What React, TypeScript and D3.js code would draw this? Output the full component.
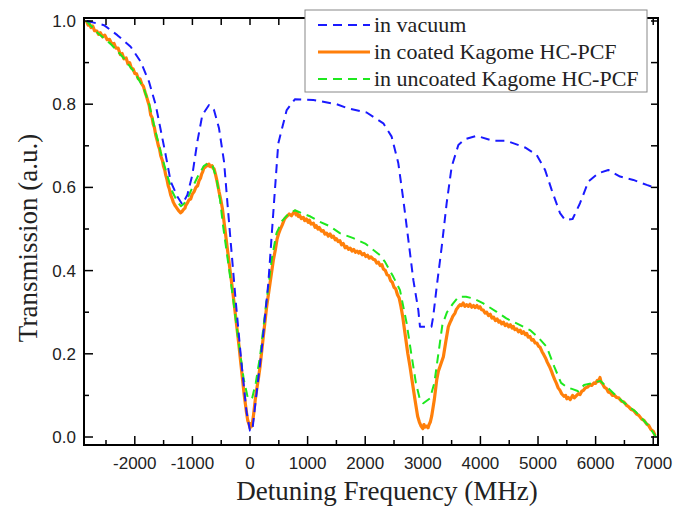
import React from "react";
import * as d3 from "d3";

const xTickValues = [-2000, -1000, 0, 1000, 2000, 3000, 4000, 5000, 6000, 7000];
const yTickValues = [0.0, 0.2, 0.4, 0.6, 0.8, 1.0];
const legendLabels = ["in vacuum", "in coated Kagome HC-PCF", "in uncoated Kagome HC-PCF"];

const vacuum: [number, number][] = [
  [-2830, 1.0], [-2535, 0.99], [-2303, 0.966], [-2072, 0.938], [-1898, 0.902], [-1753, 0.854],
  [-1637, 0.798], [-1550, 0.738], [-1464, 0.678], [-1377, 0.614], [-1262, 0.578], [-1175, 0.559],
  [-1088, 0.582], [-1001, 0.63], [-914, 0.71], [-828, 0.774], [-712, 0.798], [-625, 0.786],
  [-538, 0.742], [-451, 0.662], [-394, 0.566], [-330, 0.46], [-250, 0.33], [-150, 0.18],
  [-60, 0.06], [0, 0.015], [40, 0.015], [87, 0.073], [203, 0.21], [318, 0.37], [420, 0.57],
  [491, 0.706], [637, 0.786], [781, 0.812], [1100, 0.81], [1505, 0.8], [1700, 0.79], [2025, 0.78],
  [2315, 0.754], [2459, 0.722], [2575, 0.658], [2662, 0.57], [2749, 0.474], [2836, 0.377],
  [2922, 0.305], [2951, 0.265], [3150, 0.265], [3180, 0.289], [3241, 0.361], [3328, 0.457],
  [3414, 0.562], [3501, 0.65], [3617, 0.702], [3733, 0.716], [3935, 0.724], [4224, 0.712],
  [4456, 0.712], [4774, 0.696], [4977, 0.678], [5122, 0.642], [5237, 0.594], [5382, 0.538],
  [5470, 0.522], [5600, 0.524], [5729, 0.562], [5874, 0.614], [6047, 0.634], [6221, 0.642],
  [6424, 0.626], [6655, 0.618], [6887, 0.606], [7060, 0.598],
];

const coated: [number, number][] = [
  [-2840, 1.0], [-2810, 0.99], [-2790, 0.995], [-2760, 0.984], [-2730, 0.988], [-2700, 0.977],
  [-2660, 0.976], [-2630, 0.968], [-2600, 0.972], [-2560, 0.962], [-2520, 0.966], [-2480, 0.955],
  [-2440, 0.956], [-2400, 0.945], [-2360, 0.946], [-2330, 0.935], [-2290, 0.935], [-2250, 0.919],
  [-2220, 0.922], [-2190, 0.909], [-2150, 0.911], [-2120, 0.897], [-2090, 0.9], [-2060, 0.887],
  [-2030, 0.885], [-2000, 0.874], [-1970, 0.873], [-1940, 0.861], [-1910, 0.861], [-1880, 0.849],
  [-1850, 0.843], [-1820, 0.828], [-1800, 0.82], [-1770, 0.806], [-1750, 0.797], [-1724, 0.774],
  [-1700, 0.768], [-1680, 0.752], [-1660, 0.744], [-1637, 0.726], [-1610, 0.712], [-1590, 0.7],
  [-1570, 0.692], [-1550, 0.676], [-1520, 0.664], [-1500, 0.65], [-1480, 0.642], [-1464, 0.63],
  [-1440, 0.618], [-1420, 0.604], [-1400, 0.596], [-1377, 0.582], [-1350, 0.572], [-1330, 0.564],
  [-1300, 0.556], [-1270, 0.55], [-1240, 0.544], [-1204, 0.539], [-1180, 0.542], [-1160, 0.546],
  [-1130, 0.55], [-1117, 0.556], [-1090, 0.562], [-1060, 0.57], [-1030, 0.572], [-1001, 0.584],
  [-970, 0.59], [-940, 0.6], [-910, 0.604], [-885, 0.616], [-860, 0.622], [-840, 0.632],
  [-820, 0.638], [-799, 0.648], [-780, 0.648], [-750, 0.655], [-730, 0.652], [-712, 0.656],
  [-690, 0.65], [-660, 0.652], [-640, 0.646], [-625, 0.645], [-600, 0.632], [-580, 0.62],
  [-560, 0.606], [-538, 0.59], [-510, 0.572], [-480, 0.55], [-440, 0.505], [-400, 0.46],
  [-350, 0.405], [-300, 0.35], [-250, 0.29], [-200, 0.23], [-150, 0.165], [-100, 0.1],
  [-60, 0.058], [-40, 0.04], [-15, 0.03], [0, 0.022], [15, 0.032], [30, 0.026], [45, 0.038],
  [58, 0.049], [100, 0.1], [140, 0.135], [174, 0.169], [230, 0.24], [289, 0.313], [350, 0.372],
  [405, 0.425], [440, 0.45], [470, 0.476], [500, 0.49], [521, 0.498], [560, 0.51], [600, 0.524],
  [637, 0.53], [680, 0.536], [720, 0.532], [760, 0.54], [781, 0.543], [800, 0.534], [820, 0.538],
  [840, 0.53], [860, 0.533], [890, 0.525], [926, 0.528], [950, 0.52], [980, 0.524], [1010, 0.516],
  [1030, 0.521], [1060, 0.512], [1100, 0.514], [1130, 0.504], [1150, 0.508], [1180, 0.5],
  [1200, 0.504], [1240, 0.495], [1273, 0.496], [1300, 0.488], [1330, 0.49], [1360, 0.483],
  [1390, 0.488], [1420, 0.48], [1447, 0.483], [1480, 0.474], [1500, 0.477], [1530, 0.47],
  [1560, 0.472], [1590, 0.462], [1620, 0.465], [1650, 0.455], [1678, 0.458], [1710, 0.451],
  [1740, 0.454], [1770, 0.447], [1800, 0.451], [1830, 0.444], [1860, 0.447], [1890, 0.442],
  [1910, 0.446], [1950, 0.438], [1980, 0.441], [2010, 0.434], [2040, 0.437], [2070, 0.43],
  [2100, 0.433], [2141, 0.427], [2170, 0.426], [2200, 0.418], [2230, 0.42], [2260, 0.412],
  [2290, 0.414], [2315, 0.404], [2350, 0.4], [2380, 0.39], [2410, 0.388], [2440, 0.376],
  [2470, 0.372], [2500, 0.36], [2530, 0.356], [2560, 0.342], [2590, 0.334], [2620, 0.314],
  [2650, 0.29], [2691, 0.249], [2740, 0.2], [2778, 0.169], [2820, 0.13], [2865, 0.089],
  [2910, 0.05], [2940, 0.036], [2970, 0.026], [3000, 0.02], [3020, 0.03], [3038, 0.024],
  [3067, 0.026], [3090, 0.022], [3110, 0.03], [3130, 0.036], [3154, 0.05], [3200, 0.09],
  [3241, 0.137], [3270, 0.158], [3300, 0.17], [3330, 0.182], [3357, 0.193], [3400, 0.23],
  [3443, 0.265], [3472, 0.275], [3500, 0.283], [3520, 0.29], [3559, 0.298], [3580, 0.306],
  [3600, 0.31], [3620, 0.314], [3646, 0.318], [3670, 0.316], [3700, 0.322], [3730, 0.314],
  [3760, 0.318], [3790, 0.314], [3819, 0.319], [3850, 0.312], [3880, 0.316], [3910, 0.311],
  [3940, 0.316], [3970, 0.31], [3993, 0.313], [4020, 0.306], [4050, 0.305], [4080, 0.298],
  [4109, 0.3], [4140, 0.292], [4170, 0.295], [4200, 0.286], [4230, 0.288], [4260, 0.28],
  [4290, 0.284], [4320, 0.276], [4340, 0.279], [4370, 0.272], [4400, 0.276], [4430, 0.268],
  [4460, 0.272], [4490, 0.265], [4520, 0.27], [4550, 0.262], [4571, 0.266], [4600, 0.258],
  [4630, 0.26], [4660, 0.253], [4690, 0.257], [4720, 0.249], [4750, 0.253], [4780, 0.246],
  [4803, 0.249], [4830, 0.24], [4860, 0.242], [4890, 0.233], [4920, 0.234], [4950, 0.226],
  [4980, 0.226], [5010, 0.218], [5035, 0.216], [5070, 0.205], [5100, 0.198], [5130, 0.19],
  [5160, 0.18], [5190, 0.172], [5208, 0.167], [5240, 0.156], [5260, 0.148], [5290, 0.138],
  [5320, 0.129], [5350, 0.118], [5382, 0.112], [5410, 0.104], [5450, 0.098], [5480, 0.1],
  [5500, 0.092], [5527, 0.095], [5560, 0.09], [5600, 0.1], [5630, 0.094], [5671, 0.1],
  [5700, 0.104], [5730, 0.102], [5760, 0.11], [5787, 0.112], [5820, 0.118], [5860, 0.12],
  [5900, 0.126], [5932, 0.124], [5970, 0.13], [6000, 0.129], [6030, 0.136], [6050, 0.134],
  [6076, 0.143], [6095, 0.132], [6120, 0.128], [6150, 0.12], [6192, 0.116], [6220, 0.108],
  [6260, 0.106], [6290, 0.1], [6320, 0.101], [6366, 0.095], [6400, 0.094], [6450, 0.086],
  [6490, 0.084], [6539, 0.076], [6580, 0.072], [6620, 0.066], [6660, 0.064], [6713, 0.055],
  [6750, 0.052], [6800, 0.043], [6840, 0.04], [6887, 0.031], [6920, 0.028], [6960, 0.018],
  [7000, 0.014], [7031, 0.004],
];

const uncoated: [number, number][] = [
  [-2840, 1.0], [-2650, 0.972], [-2420, 0.945], [-2200, 0.912], [-2000, 0.875], [-1850, 0.84],
  [-1750, 0.8], [-1650, 0.74], [-1550, 0.685], [-1450, 0.635], [-1350, 0.59], [-1260, 0.565],
  [-1200, 0.555], [-1150, 0.56], [-1080, 0.575], [-1000, 0.6], [-900, 0.628], [-800, 0.652],
  [-720, 0.658], [-650, 0.652], [-580, 0.62], [-520, 0.57], [-470, 0.51], [-400, 0.44],
  [-300, 0.34], [-200, 0.23], [-110, 0.14], [-40, 0.095], [0, 0.09], [40, 0.095], [100, 0.13],
  [180, 0.2], [280, 0.32], [380, 0.43], [460, 0.49], [560, 0.52], [660, 0.535], [780, 0.545],
  [900, 0.538], [1050, 0.53], [1200, 0.518], [1380, 0.507], [1560, 0.49], [1794, 0.478],
  [2000, 0.465], [2257, 0.437], [2344, 0.421], [2488, 0.385], [2604, 0.353], [2720, 0.273],
  [2800, 0.2], [2880, 0.13], [2950, 0.09], [3009, 0.081], [3125, 0.093], [3200, 0.13],
  [3270, 0.2], [3340, 0.27], [3420, 0.3], [3520, 0.32], [3617, 0.337], [3750, 0.337],
  [3877, 0.333], [4051, 0.321], [4282, 0.301], [4450, 0.285], [4629, 0.273], [4861, 0.257],
  [5000, 0.24], [5150, 0.217], [5280, 0.17], [5400, 0.13], [5500, 0.12], [5600, 0.115],
  [5700, 0.11], [5800, 0.125], [5950, 0.13], [6080, 0.135], [6200, 0.12], [6350, 0.1],
  [6500, 0.082], [6700, 0.06], [6900, 0.03], [7050, 0.0],
];

const W = 673;
const H = 506;
const left = 84, right = 658, top = 18, bottom = 445;

export default function App() {
  const x = d3.scaleLinear().domain([-2882, 7083]).range([left, right]);
  const y = d3.scaleLinear().domain([-0.0192, 1.0072]).range([bottom, top]);
  const line = d3.line<[number, number]>().x((d) => x(d[0])).y((d) => y(d[1]));

  const xMinor = d3.range(-2500, 7000, 1000);
  const topTicks = d3.range(-2500, 7001, 500);
  const yMinor = d3.range(0.1, 1.0, 0.2);
  const rightTicks = d3.range(0, 1.01, 0.1);

  const series = [
    { data: coated, color: "#ff7f0a", width: 3.2, dash: undefined as string | undefined },
    { data: uncoated, color: "#1ee81e", width: 2, dash: "9,6" },
    { data: vacuum, color: "#1a1aff", width: 2, dash: "9,6" },
  ];
  const legend = [
    { color: "#1a1aff", width: 2, dash: "9,6" },
    { color: "#ff7f0a", width: 3, dash: undefined as string | undefined },
    { color: "#1ee81e", width: 2, dash: "9,6" },
  ];

  return (
    <svg width={W} height={H} style={{ position: "absolute", left: 0, top: 0, background: "#fff" }}>
      <rect x={0} y={0} width={W} height={H} fill="#fff" />
      <defs>
        <clipPath id="plotclip">
          <rect x={left} y={top} width={right - left} height={bottom - top} />
        </clipPath>
      </defs>
      <g clipPath="url(#plotclip)">
        {series.map((s, i) => (
          <path key={i} d={line(s.data) || ""} fill="none" stroke={s.color} strokeWidth={s.width}
            strokeDasharray={s.dash} strokeLinejoin="round" />
        ))}
      </g>
      {xTickValues.map((v) => (
        <line key={"xb" + v} x1={x(v)} x2={x(v)} y1={bottom} y2={bottom - 9} stroke="#000" strokeWidth={1.5} />
      ))}
      {xMinor.map((v) => (
        <line key={"xm" + v} x1={x(v)} x2={x(v)} y1={bottom} y2={bottom - 5} stroke="#000" strokeWidth={1.5} />
      ))}
      {topTicks.map((v) => (
        <line key={"xt" + v} x1={x(v)} x2={x(v)} y1={top} y2={top + 7} stroke="#000" strokeWidth={1.5} />
      ))}
      {yTickValues.map((v) => (
        <line key={"yl" + v} x1={left} x2={left + 9} y1={y(v)} y2={y(v)} stroke="#000" strokeWidth={1.5} />
      ))}
      {yMinor.map((v) => (
        <line key={"ym" + v} x1={left} x2={left + 5} y1={y(v)} y2={y(v)} stroke="#000" strokeWidth={1.5} />
      ))}
      {rightTicks.map((v) => (
        <line key={"yr" + v} x1={right} x2={right - 7} y1={y(v)} y2={y(v)} stroke="#000" strokeWidth={1.5} />
      ))}
      <rect x={left} y={top} width={right - left} height={bottom - top} fill="none" stroke="#000" strokeWidth={2} />
      {xTickValues.map((v) => (
        <text key={"xl" + v} x={x(v)} y={469} textAnchor="middle" fontFamily="'Liberation Sans', Arial, sans-serif"
          fontSize={17} fill="#222">{String(v)}</text>
      ))}
      {yTickValues.map((v) => (
        <text key={"ylb" + v} x={76} y={y(v) + 6} textAnchor="end" fontFamily="'Liberation Sans', Arial, sans-serif"
          fontSize={17} fill="#222">{v.toFixed(1)}</text>
      ))}
      <text x={387} y={500} textAnchor="middle" fontFamily="'Liberation Serif', 'Times New Roman', serif"
        fontSize={27} fill="#222">Detuning Frequency (MHz)</text>
      <text transform={`translate(37,238) rotate(-90)`} textAnchor="middle"
        fontFamily="'Liberation Serif', 'Times New Roman', serif" fontSize={27} fill="#222">Transmission (a.u.)</text>
      <rect x={305} y={10} width={342} height={82} fill="#fff" stroke="#888" strokeWidth={1} />
      {legendLabels.map((lab, i) => {
        const ly = 25 + i * 27;
        const st = legend[i];
        return (
          <g key={lab}>
            <line x1={318} x2={370} y1={ly} y2={ly} stroke={st.color} strokeWidth={st.width} strokeDasharray={st.dash} />
            <text x={374} y={ly + 7} fontFamily="'Liberation Serif', 'Times New Roman', serif" fontSize={22} fill="#222">{lab}</text>
          </g>
        );
      })}
    </svg>
  );
}
